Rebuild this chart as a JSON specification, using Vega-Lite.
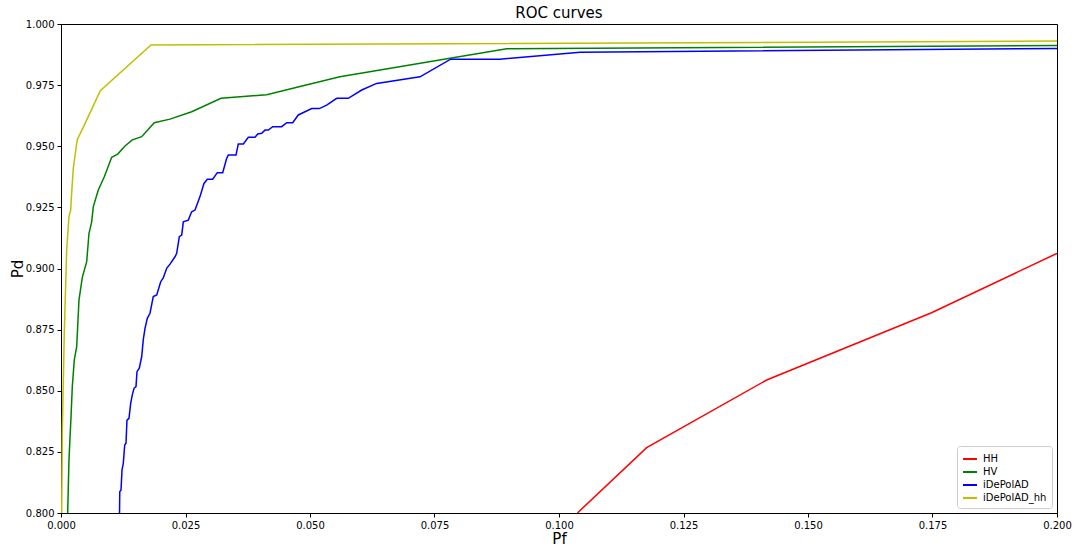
{
  "$schema": "https://vega.github.io/schema/vega-lite/v6.json",
  "width": 996,
  "height": 489,
  "autosize": {"type": "none"},
  "padding": {"left": 61, "top": 24, "right": 18, "bottom": 33},
  "background": "white",
  "title": {"text": "ROC curves", "fontSize": 15, "fontWeight": "normal", "font": "DejaVu Sans", "color": "black", "offset": -2},
  "config": {
    "view": {"stroke": "black", "strokeWidth": 1},
    "axis": {"labelFont": "DejaVu Sans", "titleFont": "DejaVu Sans", "labelFontSize": 10, "titleFontSize": 15, "titleFontWeight": "normal", "labelColor": "black", "titleColor": "black", "tickColor": "black", "domainColor": "black", "grid": false, "tickSize": 4, "labelFlush": false}
  },
  "data": {"values": [
    {"series": "iDePolAD_hh", "pf": 0.00014, "pd": 0.800},
    {"series": "iDePolAD_hh", "pf": 0.00026, "pd": 0.8327},
    {"series": "iDePolAD_hh", "pf": 0.00066, "pd": 0.8736},
    {"series": "iDePolAD_hh", "pf": 0.00114, "pd": 0.9076},
    {"series": "iDePolAD_hh", "pf": 0.0016, "pd": 0.9212},
    {"series": "iDePolAD_hh", "pf": 0.00195, "pd": 0.9239},
    {"series": "iDePolAD_hh", "pf": 0.00205, "pd": 0.928},
    {"series": "iDePolAD_hh", "pf": 0.00247, "pd": 0.941},
    {"series": "iDePolAD_hh", "pf": 0.00327, "pd": 0.9528},
    {"series": "iDePolAD_hh", "pf": 0.00442, "pd": 0.9575},
    {"series": "iDePolAD_hh", "pf": 0.00789, "pd": 0.9727},
    {"series": "iDePolAD_hh", "pf": 0.01807, "pd": 0.9914},
    {"series": "iDePolAD_hh", "pf": 0.2, "pd": 0.993},

    {"series": "HV", "pf": 0.00134, "pd": 0.800},
    {"series": "HV", "pf": 0.0016, "pd": 0.8217},
    {"series": "HV", "pf": 0.00201, "pd": 0.8394},
    {"series": "HV", "pf": 0.00227, "pd": 0.8517},
    {"series": "HV", "pf": 0.00267, "pd": 0.8626},
    {"series": "HV", "pf": 0.00315, "pd": 0.868},
    {"series": "HV", "pf": 0.00361, "pd": 0.8871},
    {"series": "HV", "pf": 0.00428, "pd": 0.8964},
    {"series": "HV", "pf": 0.00516, "pd": 0.9028},
    {"series": "HV", "pf": 0.00562, "pd": 0.9144},
    {"series": "HV", "pf": 0.00616, "pd": 0.9191},
    {"series": "HV", "pf": 0.00649, "pd": 0.9253},
    {"series": "HV", "pf": 0.00749, "pd": 0.9321},
    {"series": "HV", "pf": 0.0087, "pd": 0.9375},
    {"series": "HV", "pf": 0.01018, "pd": 0.9455},
    {"series": "HV", "pf": 0.01139, "pd": 0.9468},
    {"series": "HV", "pf": 0.01285, "pd": 0.9501},
    {"series": "HV", "pf": 0.01432, "pd": 0.9526},
    {"series": "HV", "pf": 0.0162, "pd": 0.9539},
    {"series": "HV", "pf": 0.01873, "pd": 0.9596},
    {"series": "HV", "pf": 0.02189, "pd": 0.9611},
    {"series": "HV", "pf": 0.02624, "pd": 0.9641},
    {"series": "HV", "pf": 0.03213, "pd": 0.9696},
    {"series": "HV", "pf": 0.04131, "pd": 0.9711},
    {"series": "HV", "pf": 0.048, "pd": 0.9744},
    {"series": "HV", "pf": 0.056, "pd": 0.9784},
    {"series": "HV", "pf": 0.07811, "pd": 0.986},
    {"series": "HV", "pf": 0.0895, "pd": 0.9899},
    {"series": "HV", "pf": 0.2, "pd": 0.9912},

    {"series": "iDePolAD", "pf": 0.01175, "pd": 0.800},
    {"series": "iDePolAD", "pf": 0.0118, "pd": 0.8087},
    {"series": "iDePolAD", "pf": 0.01205, "pd": 0.8094},
    {"series": "iDePolAD", "pf": 0.01225, "pd": 0.8176},
    {"series": "iDePolAD", "pf": 0.01251, "pd": 0.8203},
    {"series": "iDePolAD", "pf": 0.01279, "pd": 0.8278},
    {"series": "iDePolAD", "pf": 0.01305, "pd": 0.8285},
    {"series": "iDePolAD", "pf": 0.01325, "pd": 0.838},
    {"series": "iDePolAD", "pf": 0.01365, "pd": 0.8387},
    {"series": "iDePolAD", "pf": 0.0140, "pd": 0.8449},
    {"series": "iDePolAD", "pf": 0.01432, "pd": 0.8483},
    {"series": "iDePolAD", "pf": 0.01466, "pd": 0.851},
    {"series": "iDePolAD", "pf": 0.01506, "pd": 0.8517},
    {"series": "iDePolAD", "pf": 0.01526, "pd": 0.8578},
    {"series": "iDePolAD", "pf": 0.01572, "pd": 0.8592},
    {"series": "iDePolAD", "pf": 0.0162, "pd": 0.8639},
    {"series": "iDePolAD", "pf": 0.01653, "pd": 0.871},
    {"series": "iDePolAD", "pf": 0.01687, "pd": 0.8755},
    {"series": "iDePolAD", "pf": 0.01733, "pd": 0.8796},
    {"series": "iDePolAD", "pf": 0.01787, "pd": 0.8817},
    {"series": "iDePolAD", "pf": 0.01853, "pd": 0.8885},
    {"series": "iDePolAD", "pf": 0.01922, "pd": 0.8892},
    {"series": "iDePolAD", "pf": 0.02002, "pd": 0.8946},
    {"series": "iDePolAD", "pf": 0.02054, "pd": 0.8962},
    {"series": "iDePolAD", "pf": 0.02122, "pd": 0.9001},
    {"series": "iDePolAD", "pf": 0.02189, "pd": 0.9018},
    {"series": "iDePolAD", "pf": 0.02289, "pd": 0.9048},
    {"series": "iDePolAD", "pf": 0.02323, "pd": 0.9062},
    {"series": "iDePolAD", "pf": 0.02376, "pd": 0.913},
    {"series": "iDePolAD", "pf": 0.02424, "pd": 0.9137},
    {"series": "iDePolAD", "pf": 0.02456, "pd": 0.9191},
    {"series": "iDePolAD", "pf": 0.02556, "pd": 0.9198},
    {"series": "iDePolAD", "pf": 0.02624, "pd": 0.9232},
    {"series": "iDePolAD", "pf": 0.02691, "pd": 0.9239},
    {"series": "iDePolAD", "pf": 0.02791, "pd": 0.9294},
    {"series": "iDePolAD", "pf": 0.02871, "pd": 0.9348},
    {"series": "iDePolAD", "pf": 0.02938, "pd": 0.9365},
    {"series": "iDePolAD", "pf": 0.03046, "pd": 0.9365},
    {"series": "iDePolAD", "pf": 0.03139, "pd": 0.9392},
    {"series": "iDePolAD", "pf": 0.03247, "pd": 0.9392},
    {"series": "iDePolAD", "pf": 0.03327, "pd": 0.9451},
    {"series": "iDePolAD", "pf": 0.0336, "pd": 0.9464},
    {"series": "iDePolAD", "pf": 0.03514, "pd": 0.9464},
    {"series": "iDePolAD", "pf": 0.0356, "pd": 0.9509},
    {"series": "iDePolAD", "pf": 0.03661, "pd": 0.9509},
    {"series": "iDePolAD", "pf": 0.03761, "pd": 0.9537},
    {"series": "iDePolAD", "pf": 0.03896, "pd": 0.9537},
    {"series": "iDePolAD", "pf": 0.0395, "pd": 0.955},
    {"series": "iDePolAD", "pf": 0.0403, "pd": 0.9553},
    {"series": "iDePolAD", "pf": 0.04096, "pd": 0.9566},
    {"series": "iDePolAD", "pf": 0.04163, "pd": 0.9566},
    {"series": "iDePolAD", "pf": 0.04251, "pd": 0.958},
    {"series": "iDePolAD", "pf": 0.04432, "pd": 0.958},
    {"series": "iDePolAD", "pf": 0.04532, "pd": 0.9596},
    {"series": "iDePolAD", "pf": 0.04653, "pd": 0.9596},
    {"series": "iDePolAD", "pf": 0.04765, "pd": 0.9628},
    {"series": "iDePolAD", "pf": 0.049, "pd": 0.9641},
    {"series": "iDePolAD", "pf": 0.05034, "pd": 0.9654},
    {"series": "iDePolAD", "pf": 0.05187, "pd": 0.9654},
    {"series": "iDePolAD", "pf": 0.05335, "pd": 0.9668},
    {"series": "iDePolAD", "pf": 0.05536, "pd": 0.9696},
    {"series": "iDePolAD", "pf": 0.05769, "pd": 0.9696},
    {"series": "iDePolAD", "pf": 0.06038, "pd": 0.973},
    {"series": "iDePolAD", "pf": 0.06339, "pd": 0.9757},
    {"series": "iDePolAD", "pf": 0.07209, "pd": 0.9784},
    {"series": "iDePolAD", "pf": 0.07825, "pd": 0.9856},
    {"series": "iDePolAD", "pf": 0.08815, "pd": 0.9856},
    {"series": "iDePolAD", "pf": 0.10422, "pd": 0.9884},
    {"series": "iDePolAD", "pf": 0.2, "pd": 0.990},

    {"series": "HH", "pf": 0.1037, "pd": 0.800},
    {"series": "HH", "pf": 0.1176, "pd": 0.8267},
    {"series": "HH", "pf": 0.1417, "pd": 0.8544},
    {"series": "HH", "pf": 0.1748, "pd": 0.8819},
    {"series": "HH", "pf": 0.2, "pd": 0.9062}
  ]},
  "mark": {"type": "line", "strokeWidth": 1.5, "clip": true},
  "encoding": {
    "x": {"field": "pf", "type": "quantitative", "scale": {"domain": [0, 0.2], "nice": false, "zero": false},
      "axis": {"title": "Pf", "format": ".3f", "values": [0, 0.025, 0.05, 0.075, 0.1, 0.125, 0.15, 0.175, 0.2], "titlePadding": 1, "labelPadding": 3}},
    "y": {"field": "pd", "type": "quantitative", "scale": {"domain": [0.8, 1.0], "nice": false, "zero": false},
      "axis": {"title": "Pd", "format": ".3f", "values": [0.8, 0.825, 0.85, 0.875, 0.9, 0.925, 0.95, 0.975, 1.0], "titlePadding": 0, "labelPadding": 3}},
    "color": {"field": "series", "type": "nominal",
      "scale": {"domain": ["HH", "HV", "iDePolAD", "iDePolAD_hh"], "range": ["#ff0000", "#008000", "#0000ff", "#bfbf00"]},
      "legend": {"title": null, "orient": "bottom-right", "offset": 5, "fillColor": "white", "strokeColor": "#cccccc", "cornerRadius": 3, "padding": 5,
        "symbolType": "stroke", "symbolSize": 196, "symbolStrokeWidth": 2, "labelOffset": 5, "labelFont": "DejaVu Sans", "labelFontSize": 10, "labelColor": "black", "rowPadding": 0}}
  }
}
